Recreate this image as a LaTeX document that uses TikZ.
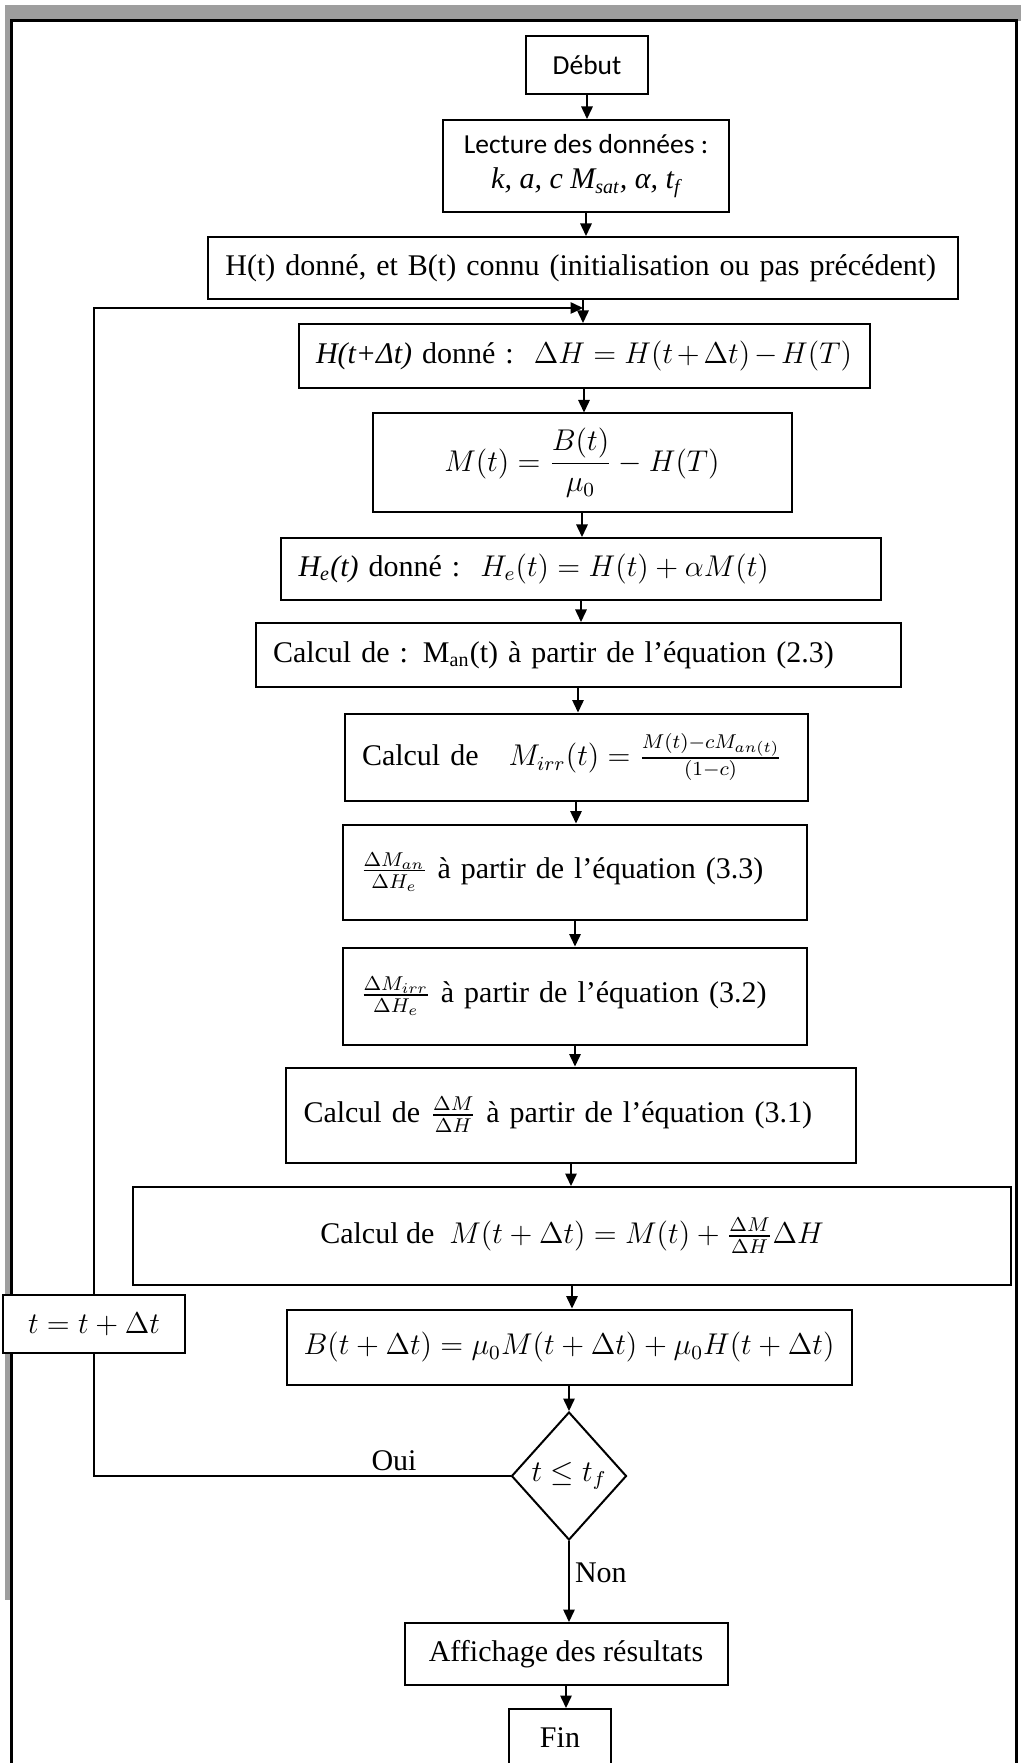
\documentclass[tikz,border=0pt]{standalone}
\usepackage{amsmath}
\usepackage{amssymb}
\usepackage{fontspec}
\setmainfont{Liberation Serif}
\newfontfamily\calibri{Carlito}
\usetikzlibrary{shapes.geometric,arrows.meta}

\tikzset{
    stepbox/.style={draw, thick, fill=white, inner sep=0pt, align=center},
    leftbox/.style={draw, thick, fill=white, inner xsep=7pt, inner ysep=0pt, align=left},
    testbox/.style={diamond, draw, thick, fill=white, inner sep=0pt},
    scan/.style={black!38},
}

\begin{document}
\begin{tikzpicture}[x=0.4pt, y=-0.4pt, >={Triangle[length=5pt, width=4.6pt]},
    font=\fontsize{12}{14}\selectfont]
    \useasboundingbox (0,0) rectangle (1021,1763);
    \fill[scan] (5,5) rectangle (1021,21);
    \fill[scan] (5,5) rectangle (11,1600);
    \draw[line width=1.2pt] (11,1790) -- (11,21) -- (1016,21) -- (1016,1790);

    \node[stepbox, minimum width=48.8pt, minimum height=23.2pt,
        font=\calibri\fontsize{11}{14}\selectfont] (debut) at (587,65) {Début};
    \node[stepbox, minimum width=114.4pt, minimum height=36.8pt] (lecture) at (586,166)
        {{\calibri\fontsize{11}{14}\selectfont Lecture des données :}\\
        \textit{k, a, c M\textsubscript{sat}, α, t\textsubscript{f}}};
    \node[leftbox, minimum height=24.8pt, text width=286pt] (init) at (583,268)
        {H(t) donné, et B(t) connu (initialisation ou pas précédent)};
    \node[leftbox, minimum height=25.6pt, text width=214.4pt] (hnext) at (584,356)
        {\textit{H(t+Δt)} donné :\ \ $\Delta H = H(t+\Delta t) - H(T)$};
    \node[stepbox, minimum width=167.6pt, minimum height=39.6pt] (mag) at (582,463)
        {$\displaystyle M(t) = \frac{B(t)}{\mu_0} - H(T)$};
    \node[leftbox, minimum height=24.8pt, text width=226pt] (heff) at (581,569)
        {\textit{H\textsubscript{e}(t)} donné :\ \ $H_e(t) = H(t) + \alpha M(t)$};
    \node[leftbox, minimum height=25.6pt, text width=244pt] (man) at (578,655)
        {Calcul de : M\textsubscript{an}(t) à partir de l’équation (2.3)};
    \node[leftbox, minimum height=34.8pt, text width=171.2pt] (mirr) at (576,757)
        {Calcul de\ \ \ $M_{irr}(t) = \frac{M(t) - cM_{an(t)}}{(1-c)}$};
    \node[leftbox, minimum height=38pt, text width=171.6pt] (dman) at (575,872)
        {$\frac{\Delta M_{an}}{\Delta H_e}$ à partir de l’équation (3.3)};
    \node[leftbox, minimum height=38.8pt, text width=171.6pt] (dmirr) at (575,996)
        {$\frac{\Delta M_{irr}}{\Delta H_e}$ à partir de l’équation (3.2)};
    \node[leftbox, minimum height=38pt, text width=214pt] (dm) at (571,1115)
        {Calcul de $\frac{\Delta M}{\Delta H}$ à partir de l’équation (3.1)};
    \node[stepbox, minimum width=350.8pt, minimum height=39.2pt] (mnext) at (572,1236)
        {Calcul de\ \ $M(t+\Delta t) = M(t) + \frac{\Delta M}{\Delta H}\Delta H$};
    \node[stepbox, minimum width=72.4pt, minimum height=23.2pt] (tstep) at (94,1324)
        {$t = t + \Delta t$};
    \node[stepbox, minimum width=226pt, minimum height=30pt] (bnext) at (569,1347)
        {$B(t+\Delta t) = \mu_0 M(t+\Delta t) + \mu_0 H(t+\Delta t)$};
    \node[testbox, minimum width=46pt, minimum height=51.2pt] (test) at (569,1476)
        {$t \leq t_f$};
    \node[stepbox, minimum width=129.2pt, minimum height=24.8pt] (aff) at (566,1654)
        {Affichage des résultats};
    \node[stepbox, minimum width=40.8pt, minimum height=23.2pt] (fin) at (560,1738) {Fin};

    \coordinate (join) at (583,308);
    \foreach \a/\b in {debut/lecture, lecture/init, init/hnext, hnext/mag, mag/heff,
        heff/man, man/mirr, mirr/dman, dman/dmirr, dmirr/dm, dm/mnext, mnext/bnext,
        bnext/test, test/aff, aff/fin}
        \draw[->, semithick] (\a.south) -- (\a.south |- \b.north);

    \draw[semithick] (test.west) -| (tstep.south);
    \draw[->, semithick] (tstep.north) |- (join);
    \node[anchor=south, inner sep=1pt] (oui) at (394,1474) {Oui};
    \node[anchor=west, inner sep=1pt] (non) at (572,1573) {Non};
\end{tikzpicture}
\end{document}
